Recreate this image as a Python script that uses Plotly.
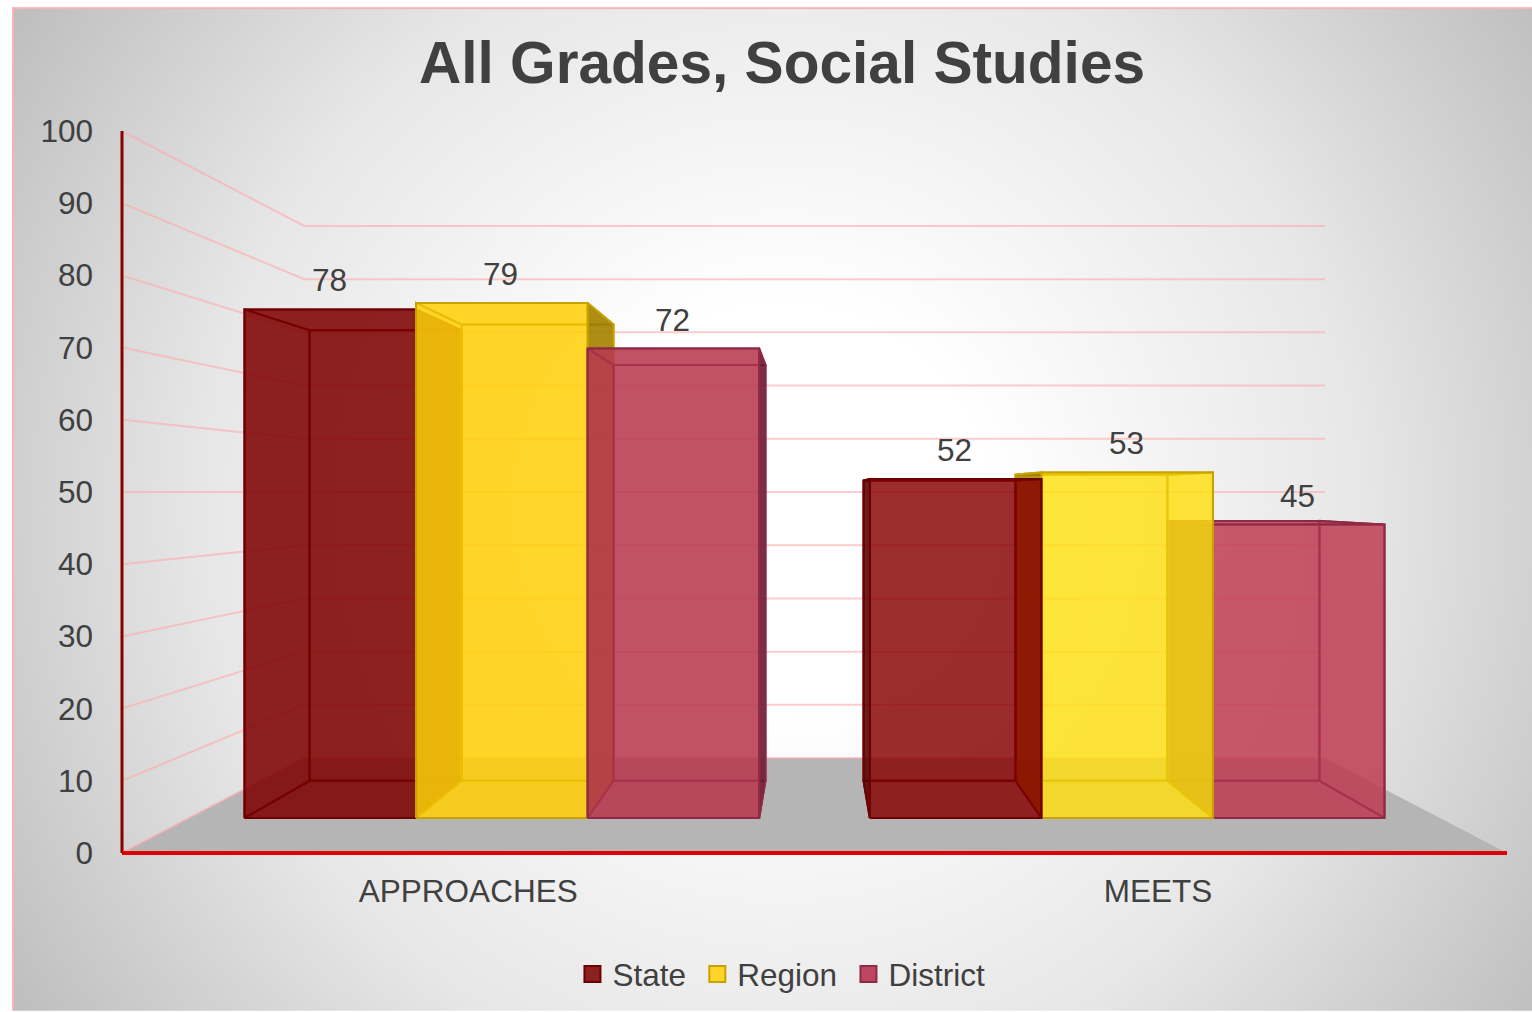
import base64
import plotly.graph_objects as go

categories = ['APPROACHES', 'MEETS']
series_names = ['State', 'Region', 'District']
state = [78, 52]
region = [79, 53]
district = [72, 45]
y_ticks = [0, 10, 20, 30, 40, 50, 60, 70, 80, 90, 100]

series_values = [state, region, district]
# one fill per series for each category group, the Meets group reads lighter
fills = [
    [(125, 0, 0), (255, 208, 8), (183, 55, 78)],
    [(135, 0, 0), (255, 224, 16), (190, 55, 80)],
]
side_fills = [(80, 0, 0), (150, 118, 0), (95, 25, 45)]
edges = ['#6e0000', '#c9a100', '#8e2a45']
swatch_fills = ['#8b2020', '#ffd428', '#be4660']
face_alpha = [0.63, 0.58]

GAP = 0.0885
BAR = (1 - 2 * GAP) / 3
WALL_DEPTH = 0.737
BAR_FRONT = 0.903
BAR_BACK = 0.80
TEXT = '#404040'
FONT = 'Liberation Sans'


def project(x, v, depth):
    # perspective towards the middle of the plot, depth 1 is the front plane
    return 1 + depth * (x - 1), 50 + depth * (v - 50)


def face(points, rgb, alpha, edge):
    xs = [p[0] for p in points] + [points[0][0]]
    ys = [p[1] for p in points] + [points[0][1]]
    return go.Scatter(x=xs, y=ys, mode='lines', fill='toself',
                      fillcolor=f'rgba({rgb[0]},{rgb[1]},{rgb[2]},{alpha})',
                      line=dict(color=edge, width=2),
                      hoverinfo='skip', showlegend=False)


def bar_faces(x0, x1, v, rgb, side_rgb, edge, alpha):
    back = [project(x0, 0, BAR_BACK), project(x1, 0, BAR_BACK), project(x1, v, BAR_BACK), project(x0, v, BAR_BACK)]
    front = [project(x0, 0, BAR_FRONT), project(x1, 0, BAR_FRONT), project(x1, v, BAR_FRONT), project(x0, v, BAR_FRONT)]
    bottom = [front[0], front[1], back[1], back[0]]
    top = [front[3], front[2], back[2], back[3]]
    left = [front[0], back[0], back[3], front[3]]
    right = [front[1], back[1], back[2], front[2]]
    # the side turned to the centre is the one lit darker
    if x1 <= 1:
        hidden, facing = left, right
    else:
        hidden, facing = right, left
    return [
        face(back, rgb, alpha, edge),
        face(hidden, rgb, alpha, edge),
        face(bottom, rgb, alpha, edge),
        face(top, rgb, alpha, edge),
        face(facing, side_rgb, alpha + 0.15, edge),
        face(front, rgb, alpha, edge),
    ]


fig = go.Figure()

# floor
floor = [project(0, 0, 1), project(2, 0, 1), project(2, 0, WALL_DEPTH), project(0, 0, WALL_DEPTH)]
fig.add_trace(go.Scatter(x=[p[0] for p in floor], y=[p[1] for p in floor], mode='lines',
                         fill='toself', fillcolor='#b5b5b5', line=dict(width=0),
                         hoverinfo='skip', showlegend=False))

# walls gridlines
grid_x, grid_y = [], []
for t in y_ticks:
    for p in (project(0, t, 1), project(0, t, WALL_DEPTH), project(2, t, WALL_DEPTH)):
        grid_x.append(p[0])
        grid_y.append(p[1])
    grid_x.append(None)
    grid_y.append(None)
fig.add_trace(go.Scatter(x=grid_x, y=grid_y, mode='lines',
                         line=dict(color='rgba(255,170,170,0.6)', width=2),
                         hoverinfo='skip', showlegend=False))

# bars, far ones first so the group reads right on each side of the centre
annotations = []
for c in range(len(categories)):
    order = range(3) if c == 0 else reversed(range(3))
    for s in order:
        x0 = c + GAP + s * BAR
        x1 = x0 + BAR
        v = series_values[s][c]
        for tr in bar_faces(x0, x1, v, fills[c][s], side_fills[s], edges[s], face_alpha[c]):
            fig.add_trace(tr)
        lx, ly = project((x0 + x1) / 2, v, BAR_FRONT)
        annotations.append(dict(x=lx, y=ly, text=str(v), showarrow=False, yanchor='middle',
                                xshift=-1, yshift=29, font=dict(family=FONT, size=31.5, color=TEXT)))

# legend entries, the thin space widens the pitch between items
for s, name in enumerate(series_names):
    fig.add_trace(go.Scatter(x=[None], y=[None], mode='markers', name=name + '\u2009',
                             marker=dict(symbol='square', size=16, color=swatch_fills[s],
                                         line=dict(color=edges[s], width=2))))

svg = """<svg xmlns="http://www.w3.org/2000/svg" width="1532" height="1012">
<defs><radialGradient id="g" gradientUnits="userSpaceOnUse" cx="782" cy="510" r="930">
<stop offset="0.22" stop-color="#ffffff"/><stop offset="0.62" stop-color="#e7e7e7"/>
<stop offset="1" stop-color="#bcbcbc"/></radialGradient></defs>
<rect width="1532" height="1012" fill="#ffffff"/>
<rect x="13" y="8" width="1560" height="1040" fill="url(#g)" stroke="#ffb0b0" stroke-width="2"/>
</svg>"""
background = 'data:image/svg+xml;base64,' + base64.b64encode(svg.encode()).decode()

fig.update_layout(
    width=1532,
    height=1012,
    margin=dict(l=122, r=25, t=131, b=158),
    paper_bgcolor='white',
    plot_bgcolor='rgba(0,0,0,0)',
    title=dict(text='<b>All Grades, Social Studies</b>', x=782 / 1532, xanchor='center',
               y=1 - 62 / 1012, yanchor='middle', font=dict(family=FONT, size=58.6, color=TEXT)),
    xaxis=dict(range=[0, 2], tickvals=[0.5, 1.496], ticktext=categories, showgrid=False,
               zeroline=False, ticklabelstandoff=16, tickfont=dict(family=FONT, size=31.5, color=TEXT)),
    yaxis=dict(range=[0, 100], tickvals=y_ticks, showgrid=False, zeroline=False,
               ticklabelstandoff=28, tickfont=dict(family=FONT, size=31.5, color=TEXT)),
    legend=dict(orientation='h', x=0.4783, xanchor='center', y=-0.166, yanchor='middle',
                font=dict(family=FONT, size=31.5, color=TEXT), bgcolor='rgba(0,0,0,0)'),
    annotations=annotations,
    # axis lines as shapes so they sit centred on the plot edge
    shapes=[
        dict(type='line', xref='paper', yref='paper', x0=0, x1=0, y0=0, y1=1,
             line=dict(color='#8b0000', width=3)),
        dict(type='line', xref='paper', yref='paper', x0=0, x1=1, y0=0, y1=0,
             line=dict(color='#e00000', width=4)),
    ],
    images=[dict(source=background, xref='paper', yref='paper', x=-122 / 1385, y=1 + 131 / 723,
                 sizex=1532 / 1385, sizey=1012 / 723, sizing='stretch', layer='below',
                 xanchor='left', yanchor='top')],
)

fig.write_html('out.html', config=dict(displayModeBar=False),
               post_script="document.body.style.margin='0';document.body.style.overflow='hidden';")
